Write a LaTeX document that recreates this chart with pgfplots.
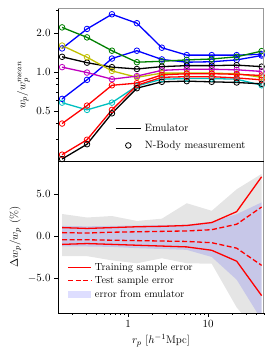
\documentclass[border=0pt]{standalone}
\usepackage{pgfplots}
\pgfplotsset{compat=1.18}
\definecolor{mplb}{rgb}{0,0,1}
\definecolor{mplg}{rgb}{0,0.5,0}
\definecolor{mplr}{rgb}{1,0,0}
\definecolor{mplc}{rgb}{0,0.75,0.75}
\definecolor{mplm}{rgb}{0.75,0,0.75}
\definecolor{mply}{rgb}{0.75,0.75,0}
\definecolor{bandgray}{rgb}{0.9,0.9,0.9}
\definecolor{spinegray}{rgb}{0.6,0.6,0.6}

\pgfplotstableread{
x      b1    b2    g     k1    y     m     c     rA    rB    k2
0.15   1.52  0.62  2.21  1.31  1.60  1.09  0.58  0.40  0.23  0.213
0.3075 2.15  0.87  1.85  1.18  1.30  0.99  0.51  0.55  0.30  0.277
0.630  2.79  1.27  1.46  1.09  1.02  0.88  0.58  0.79  0.51  0.48
1.292  2.38  1.46  1.19  1.055 0.91  0.93  0.78  0.82  0.79  0.75
2.649  1.54  1.25  1.21  1.10  0.98  1.03  0.88  0.95  0.91  0.84
5.43   1.35  1.19  1.24  1.12  0.98  1.05  0.89  0.97  0.92  0.85
11.13  1.35  1.20  1.26  1.12  0.98  1.05  0.89  0.97  0.92  0.84
22.82  1.35  1.24  1.31  1.13  0.97  1.04  0.88  0.96  0.90  0.83
46.8   1.37  1.34  1.45  1.10  0.91  1.01  0.79  0.94  0.87  0.81
}\topdata

\pgfplotstableread{
x      tu    tl     su    sl
0.15   1.00  -1.00  0.40  -0.45
0.3075 0.90  -0.90  0.35  -0.45
0.630  1.00  -1.00  0.45  -0.50
1.292  1.10  -1.10  0.50  -0.55
2.649  1.15  -1.20  0.55  -0.60
5.43   1.25  -1.30  0.60  -0.65
11.13  1.60  -1.70  0.75  -0.80
22.82  2.90  -3.00  1.40  -1.45
46.8   7.05  -7.10  3.45  -3.50
}\botdata

\pgfplotsset{
  spines/.style={
    axis line style={draw=none},
    after end axis/.code={
      \draw[spinegray, line width=1pt] (rel axis cs:0,1) -- (rel axis cs:1,1) -- (rel axis cs:1,0);
      \draw[black, line width=0.8pt] (rel axis cs:0,1) -- (rel axis cs:0,0) -- (rel axis cs:1,0);
    }
  },
  spinesbot/.style={
    axis line style={draw=none},
    after end axis/.code={
      \draw[spinegray, line width=1pt] (rel axis cs:1,1) -- (rel axis cs:1,0);
      \draw[black, line width=0.8pt] (rel axis cs:1,1) -- (rel axis cs:0,1) -- (rel axis cs:0,0) -- (rel axis cs:1,0);
    }
  },
  common/.style={
    scale only axis, width=206pt, height=152pt,
    tick align=outside,
    tick style={black, line width=0.6pt},
    major tick length=4pt, minor tick length=2pt,
    ytick pos=left, xtick pos=left,
    tick label style={font=\fontsize{11}{13}\selectfont},
    label style={font=\fontsize{11}{13}\selectfont},
    legend cell align=left,
  },
  ln/.style={line width=1.3pt, color=#1},
  mk/.style={only marks, mark=o, mark size=2.8pt, mark options={line width=0.8pt, color=#1}, color=#1},
  myarea/.style={legend image code/.code={\path[##1] (0pt,-3.5pt) rectangle (23pt,3.5pt);}},
}

\begin{document}
\begin{tikzpicture}[x=1pt,y=1pt]
\path[use as bounding box] (0,0) rectangle (274,356);
\begin{axis}[common, spines,
  at={(58pt,195pt)}, anchor=south west,
  xmode=log, ymode=log,
  xmin=0.1334, xmax=50.1, ymin=0.2056, ymax=3.064,
  xmajorticks=false, xminorticks=false,
  ytick={0.5,1,2}, yticklabels={$0.5$,$1.0$,$2.0$},
  minor ytick={0.3,0.4,0.6,0.7,0.8,0.9,3},
  ylabel={$w_p/w_p^{mean}$},
  legend style={draw=none, fill=none, font=\fontsize{10.6}{12}\selectfont,
    at={(axis description cs:0.262,0.285)}, anchor=north west,
    nodes={inner ysep=4.1pt, inner xsep=3.5pt}},
  legend image code/.code={\draw[mark repeat=2,mark phase=2,#1] plot coordinates {(0pt,0pt) (12.5pt,0pt) (25pt,0pt)};},
]
\foreach \c/\col in {b1/mplb, b2/mplb, g/mplg, k1/black, y/mply, m/mplm, c/mplc, rA/mplr, rB/mplr, k2/black}{
  \edef\tmp{\noexpand\addplot[ln=\col, forget plot] table[x=x, y=\c] {\noexpand\topdata};
  \noexpand\addplot[mk=\col, forget plot] table[x=x, y=\c] {\noexpand\topdata};}
  \tmp
}
\addlegendimage{black, line width=1.3pt}
\addlegendentry{Emulator}
\addlegendimage{black, only marks, mark=o, mark size=2.8pt, mark options={line width=0.8pt}}
\addlegendentry{N-Body measurement}
\end{axis}

\begin{axis}[common, spinesbot,
  at={(58pt,43pt)}, anchor=south west,
  xmode=log,
  xmin=0.1334, xmax=50.1, ymin=-9.17, ymax=8.93,
  xtick={1,10}, xticklabels={$1$,$10$},
  minor xtick={0.2,0.3,0.4,0.5,0.6,0.7,0.8,0.9,2,3,4,5,6,7,8,9,20,30,40,50},
  ytick={-5,0,5}, yticklabels={$-5.0$,$0.0$,$5.0$},
  ylabel={$\Delta w_p/w_p$ (\%)},
  xlabel={$r_p$ [$h^{-1}$Mpc]},
  legend style={draw=none, fill=none, font=\fontsize{10.3}{12}\selectfont,
    at={(axis description cs:0.03,0.36)}, anchor=north west,
    nodes={inner ysep=2.4pt, inner xsep=3.3pt}},
  legend image code/.code={\draw[mark repeat=2,mark phase=2,#1] plot coordinates {(0pt,0pt) (11.5pt,0pt) (23pt,0pt)};},
]
\addplot[fill=bandgray, draw=none, forget plot] coordinates {
 (0.15,2.62) (0.3075,2.20) (0.630,2.38) (1.292,1.79) (2.649,2.06) (5.43,3.90) (11.13,3.00) (22.82,5.56) (46.8,7.40)
 (46.8,-12.0) (22.82,-8.50) (11.13,-3.30) (5.43,-3.25) (2.649,-2.65) (1.292,-3.25) (0.630,-2.90) (0.3075,-2.40) (0.15,-2.40)};
\addplot[fill=blue, fill opacity=0.13, draw=none, forget plot] coordinates {
 (0.15,1.20) (0.3075,1.15) (0.630,1.20) (1.292,1.25) (2.649,1.30) (5.43,1.35) (11.13,1.70) (22.82,2.60) (46.8,4.00)
 (46.8,-10.0) (22.82,-5.20) (11.13,-2.50) (5.43,-1.65) (2.649,-1.55) (1.292,-1.45) (0.630,-1.30) (0.3075,-1.25) (0.15,-1.25)};
\addplot[ln=mplr, forget plot] table[x=x, y=tu] {\botdata};
\addplot[ln=mplr, forget plot] table[x=x, y=tl] {\botdata};
\addplot[ln=mplr, dash pattern=on 5pt off 2.5pt, forget plot] table[x=x, y=su] {\botdata};
\addplot[ln=mplr, dash pattern=on 5pt off 2.5pt, forget plot] table[x=x, y=sl] {\botdata};
\addlegendimage{mplr, line width=1.3pt}
\addlegendentry{Training sample error}
\addlegendimage{mplr, line width=1.3pt, dash pattern=on 5pt off 2.5pt}
\addlegendentry{Test sample error}
\addlegendimage{myarea, fill=blue, fill opacity=0.13, draw=none}
\addlegendentry{error from emulator}
\end{axis}
\end{tikzpicture}
\end{document}
